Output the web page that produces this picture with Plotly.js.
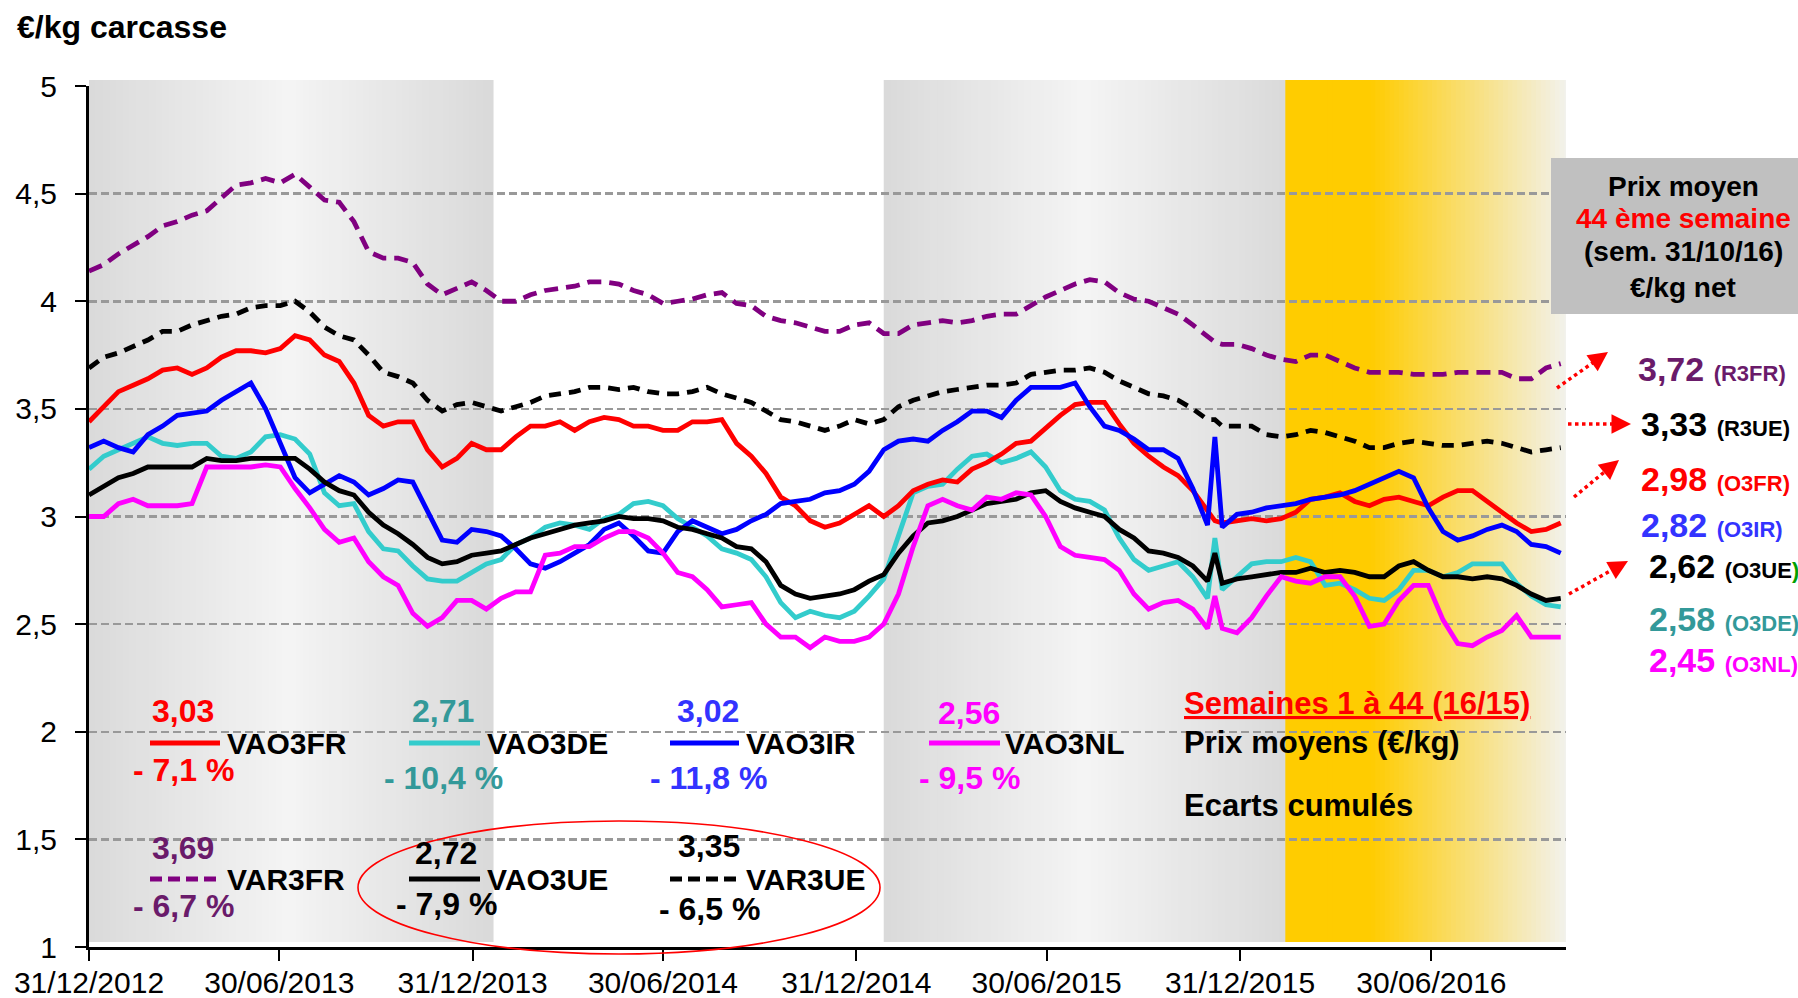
<!DOCTYPE html>
<html>
<head>
<meta charset="utf-8">
<script src="https://cdn.plot.ly/plotly-3.0.1.min.js"></script>
<style>
html,body{margin:0;padding:0;background:#fff;}
#chart{width:1798px;height:998px;}
</style>
</head>
<body>
<div id="chart"></div>
<script>
// ---------------- DATA ----------------
const startDate = '2012-12-31';
// weeks since start date (weekly data, sampled)
const weeks = [0,2,4,6,8,10,12,14,16,18,20,22,24,26,28,30,32,34,36,38,40,42,44,46,48,50,
  52,54,56,58,60,62,64,66,68,70,72,74,76,78,80,82,84,86,88,90,92,94,96,98,100,102,
  104,106,108,110,112,114,116,118,120,122,124,126,128,130,132,134,136,138,140,142,144,146,148,150,152,
  153,
  154,156,158,160,162,164,166,168,170,172,174,176,178,180,182,184,186,188,190,192,194,196,198,200];

const VAR3FR = [4.14,4.17,4.22,4.26,4.30,4.35,4.37,4.40,4.42,4.48,4.54,4.55,4.57,4.55,4.59,4.53,4.47,4.46,4.37,4.23,4.20,4.20,4.18,4.08,4.03,4.06,
  4.09,4.05,4.00,4.00,4.03,4.05,4.06,4.07,4.09,4.09,4.08,4.05,4.03,3.99,4.00,4.01,4.03,4.04,3.99,3.98,3.93,3.91,3.90,3.88,3.86,3.86,
  3.89,3.90,3.85,3.85,3.89,3.90,3.91,3.90,3.91,3.93,3.94,3.94,3.98,4.02,4.05,4.08,4.10,4.09,4.04,4.01,4.00,3.97,3.94,3.89,3.84,
  3.81,
  3.80,3.80,3.78,3.75,3.73,3.72,3.75,3.75,3.72,3.69,3.67,3.67,3.67,3.66,3.66,3.66,3.67,3.67,3.67,3.67,3.64,3.64,3.69,3.71];

const VAR3UE = [3.69,3.74,3.76,3.79,3.82,3.86,3.86,3.89,3.91,3.93,3.94,3.97,3.98,3.98,4.00,3.95,3.88,3.84,3.82,3.75,3.67,3.65,3.62,3.54,3.49,3.52,
  3.53,3.51,3.49,3.51,3.53,3.56,3.57,3.58,3.60,3.60,3.59,3.60,3.58,3.57,3.57,3.58,3.60,3.57,3.55,3.53,3.49,3.45,3.44,3.42,3.40,3.42,
  3.45,3.43,3.45,3.51,3.54,3.56,3.58,3.59,3.60,3.61,3.61,3.62,3.66,3.67,3.68,3.68,3.69,3.67,3.63,3.60,3.57,3.56,3.54,3.50,3.45,
  3.45,
  3.42,3.42,3.42,3.38,3.37,3.38,3.40,3.39,3.37,3.35,3.32,3.32,3.34,3.35,3.34,3.33,3.33,3.34,3.35,3.34,3.32,3.30,3.31,3.32];

const VAO3FR = [3.44,3.51,3.58,3.61,3.64,3.68,3.69,3.66,3.69,3.74,3.77,3.77,3.76,3.78,3.84,3.82,3.75,3.72,3.62,3.47,3.42,3.44,3.44,3.31,3.23,3.27,
  3.34,3.31,3.31,3.37,3.42,3.42,3.44,3.40,3.44,3.46,3.45,3.42,3.42,3.40,3.40,3.44,3.44,3.45,3.34,3.28,3.20,3.09,3.05,2.98,2.95,2.97,
  3.01,3.05,3.00,3.05,3.12,3.15,3.17,3.16,3.22,3.25,3.29,3.34,3.35,3.41,3.47,3.52,3.53,3.53,3.43,3.34,3.28,3.23,3.19,3.12,3.03,
  2.98,
  2.97,2.98,2.99,2.98,2.99,3.02,3.08,3.09,3.11,3.07,3.05,3.08,3.09,3.07,3.05,3.09,3.12,3.12,3.07,3.02,2.97,2.93,2.94,2.97];

const VAO3IR = [3.32,3.35,3.32,3.30,3.38,3.42,3.47,3.48,3.49,3.54,3.58,3.62,3.50,3.34,3.18,3.11,3.15,3.19,3.16,3.10,3.13,3.17,3.16,3.02,2.89,2.88,
  2.94,2.93,2.91,2.85,2.78,2.76,2.79,2.83,2.87,2.94,2.97,2.91,2.84,2.83,2.93,2.98,2.95,2.92,2.94,2.98,3.01,3.06,3.07,3.08,3.11,3.12,
  3.15,3.21,3.31,3.35,3.36,3.35,3.40,3.44,3.49,3.49,3.46,3.54,3.60,3.60,3.60,3.62,3.51,3.42,3.40,3.36,3.31,3.31,3.27,3.13,2.96,
  3.37,
  2.95,3.01,3.02,3.04,3.05,3.06,3.08,3.09,3.10,3.12,3.15,3.18,3.21,3.18,3.04,2.93,2.89,2.91,2.94,2.96,2.93,2.87,2.86,2.83];

const VAO3DE = [3.22,3.28,3.31,3.34,3.37,3.34,3.33,3.34,3.34,3.28,3.27,3.30,3.37,3.38,3.36,3.29,3.11,3.05,3.06,2.93,2.85,2.84,2.77,2.71,2.70,2.70,
  2.74,2.78,2.80,2.87,2.90,2.95,2.97,2.96,2.94,2.99,3.01,3.06,3.07,3.05,2.99,2.95,2.91,2.85,2.83,2.80,2.72,2.60,2.53,2.56,2.54,2.53,
  2.56,2.63,2.71,2.91,3.11,3.14,3.15,3.22,3.28,3.29,3.25,3.27,3.30,3.23,3.12,3.08,3.07,3.03,2.90,2.80,2.75,2.77,2.79,2.72,2.62,
  2.90,
  2.66,2.72,2.78,2.79,2.79,2.81,2.79,2.68,2.69,2.66,2.62,2.61,2.66,2.75,2.75,2.72,2.74,2.78,2.78,2.78,2.69,2.63,2.59,2.58];

const VAO3UE = [3.10,3.14,3.18,3.20,3.23,3.23,3.23,3.23,3.27,3.26,3.26,3.27,3.27,3.27,3.27,3.22,3.16,3.12,3.10,3.02,2.96,2.92,2.87,2.81,2.78,2.79,
  2.82,2.83,2.84,2.87,2.90,2.92,2.94,2.96,2.97,2.98,3.00,2.99,2.99,2.98,2.95,2.94,2.92,2.90,2.86,2.85,2.79,2.68,2.64,2.62,2.63,2.64,
  2.66,2.70,2.73,2.83,2.91,2.97,2.98,3.00,3.03,3.06,3.07,3.08,3.11,3.12,3.07,3.04,3.02,3.00,2.94,2.90,2.84,2.83,2.81,2.77,2.70,
  2.83,
  2.69,2.71,2.72,2.73,2.74,2.74,2.76,2.74,2.75,2.74,2.72,2.72,2.77,2.79,2.75,2.72,2.72,2.71,2.72,2.71,2.68,2.64,2.61,2.62];

const VAO3NL = [3.00,3.00,3.06,3.08,3.05,3.05,3.05,3.06,3.23,3.23,3.23,3.23,3.24,3.23,3.13,3.04,2.94,2.88,2.90,2.79,2.72,2.68,2.55,2.49,2.53,2.61,
  2.61,2.57,2.62,2.65,2.65,2.82,2.83,2.86,2.86,2.90,2.93,2.93,2.90,2.83,2.74,2.72,2.66,2.58,2.59,2.60,2.50,2.44,2.44,2.39,2.44,2.42,
  2.42,2.44,2.50,2.64,2.86,3.05,3.08,3.05,3.03,3.09,3.08,3.11,3.10,3.00,2.86,2.82,2.81,2.80,2.75,2.64,2.57,2.60,2.61,2.57,2.48,
  2.63,
  2.48,2.46,2.53,2.63,2.72,2.70,2.69,2.72,2.72,2.63,2.49,2.50,2.61,2.68,2.68,2.52,2.41,2.40,2.44,2.47,2.54,2.44,2.44,2.44];

// legend block texts (average price weeks 1-44 and cumulated gap 16/15)
const legendNames = ['VAO3FR','VAO3DE','VAO3IR','VAO3NL','VAR3FR','VAO3UE','VAR3UE'];
const legendAvg   = ['3,03','2,71','3,02','2,56','3,69','2,72','3,35'];
const legendPct   = ['- 7,1 %','- 10,4 %','- 11,8 %','- 9,5 %','- 6,7 %','- 7,9 %','- 6,5 %'];
// last week prices
const lastPrices = ['3,72','3,33','2,98','2,82','2,62','2,58','2,45'];
const lastCodes  = ['(R3FR)','(R3UE)','(O3FR)','(O3IR)','(O3UE','(O3DE)','(O3NL)'];

const xTickVals = ['2012-12-31','2013-06-30','2013-12-31','2014-06-30','2014-12-31','2015-06-30','2015-12-31','2016-06-30'];
const xTickText = ['31/12/2012','30/06/2013','31/12/2013','30/06/2014','31/12/2014','30/06/2015','31/12/2015','30/06/2016'];
const yTickVals = [1,1.5,2,2.5,3,3.5,4,4.5,5];
const yTickText = ['1','1,5','2','2,5','3','3,5','4','4,5','5'];

// shaded periods
const grayBands = [['2012-12-31','2014-01-16'],['2015-01-26','2016-02-12']];
const yellowBand = ['2016-02-12','2016-11-08'];

// ---------------- BUILD ----------------
const DAY = 86400000;
const t0 = Date.parse(startDate + 'T00:00:00Z');
function iso(ms){ return new Date(ms).toISOString().replace('T',' ').replace('Z',''); }
const dates = weeks.map(w => iso(t0 + w*7*DAY));

const FONT = 'Liberation Sans, Arial, Helvetica, sans-serif';
const C = {purple:'#800080', purpleTxt:'#6a1b6a', red:'#ff0000', cyan:'#33cccc', teal:'#339999',
           blue:'#0000ff', blueTxt:'#3333ff', black:'#000000', pink:'#ff00ff'};

function tr(y, color, dash){
  return {x: dates, y: y, type:'scatter', mode:'lines', hoverinfo:'skip', showlegend:false,
          line:{color:color, width:4.8, dash: dash || 'solid', shape:'linear'}};
}
const traces = [
  tr(VAR3FR, C.purple, '14px,8px'),
  tr(VAR3UE, C.black, '12px,8px'),
  tr(VAO3DE, C.cyan),
  tr(VAO3FR, C.red),
  tr(VAO3IR, C.blue),
  tr(VAO3UE, C.black),
  tr(VAO3NL, C.pink)
];

// plot area in pixels
const PL = 89, PR = 1566, PT = 86, PB = 947;
const px = v => (v - PL) / (PR - PL);
const py = v => (PB - v) / (PB - PT);

const shapes = [];
function stripes(d0, d1, colorAt, n){
  const a = Date.parse(d0+'T00:00:00Z'), b = Date.parse(d1+'T00:00:00Z');
  const step = (b - a) / n;
  for(let i=0;i<n;i++){
    shapes.push({type:'rect', layer:'below', xref:'x', yref:'paper',
      x0: iso(a + i*step), x1: iso(a + (i+1)*step + step*0.6),
      y0: py(942), y1: py(80), line:{width:0}, fillcolor: colorAt((i+0.5)/n)});
  }
}
function rgb(r,g,b){ return 'rgb('+Math.round(r)+','+Math.round(g)+','+Math.round(b)+')'; }
const grayAt = t => { const l = 218 + 26*(1 - Math.abs(2*t-1)); return rgb(l,l,l); };
const yellowAt = t => {
  if(t < 0.3) return rgb(255,204,0);
  const s = (t-0.3)/0.7;
  return rgb(255 + (242-255)*s, 204 + (242-204)*s, 0 + 240*s);
};
grayBands.forEach(b => stripes(b[0], b[1], grayAt, 60));
stripes(yellowBand[0], yellowBand[1], yellowAt, 60);

// legend sample lines
function seg(x0,x1,y,color,dash){
  shapes.push({type:'line', xref:'paper', yref:'paper', layer:'above',
    x0:px(x0), x1:px(x1), y0:py(y), y1:py(y), line:{color:color, width:5, dash: dash||'solid'}});
}
seg(150,220,743,C.red);
seg(409,480,743,C.cyan);
seg(670,739,743,C.blue);
seg(929,1000,743,C.pink);
seg(150,221,879,C.purple,'12px,6px');
seg(409,480,879,C.black);
seg(670,741,879,C.black,'12px,6px');

// red ellipse
shapes.push({type:'circle', xref:'paper', yref:'paper', layer:'above',
  x0:px(358), x1:px(880), y0:py(954), y1:py(821), line:{color:'#ff0000', width:1.6}});

// grey info box
shapes.push({type:'rect', xref:'paper', yref:'paper', layer:'above',
  x0:px(1551), x1:px(1800), y0:py(314), y1:py(158), fillcolor:'#c0c0c0', line:{width:0}});

// dotted arrows
const arrows = [[1557,388,1608,352],[1568,424,1631,424],[1574,497,1619,460],[1569,594,1628,561]];
const annotations = [];
arrows.forEach(a => {
  const dx = a[2]-a[0], dy = a[3]-a[1], L = Math.hypot(dx,dy);
  const ux = dx/L, uy = dy/L;
  shapes.push({type:'line', xref:'paper', yref:'paper', layer:'above',
    x0:px(a[0]), y0:py(a[1]), x1:px(a[2]-ux*12), y1:py(a[3]-uy*12),
    line:{color:'#ff0000', width:3.5, dash:'dot'}});
  annotations.push({xref:'paper', yref:'paper', x:px(a[2]), y:py(a[3]), ax:-ux*16, ay:-uy*16,
    axref:'pixel', ayref:'pixel', text:'', showarrow:true, arrowhead:2, arrowsize:1.3, arrowwidth:3,
    arrowcolor:'#ff0000', standoff:0, startstandoff:0});
});

function ann(x, y, text, color, size, xanchor, extra){
  const o = {xref:'paper', yref:'paper', x:px(x), y:py(y), text:text, showarrow:false,
    xanchor:xanchor||'center', yanchor:'middle', borderpad:0,
    font:{family:FONT, size:size, color:color}};
  return Object.assign(o, extra||{});
}

// legend block
const legPos = [ // [centerX of value/percent, yValue, yName, yPct, nameLeftX]
  [183,711,743,770,226],[443,711,743,778,486],[708,711,743,778,745],[969,713,743,778,1004],
  [183,848,879,906,226],[446,853,879,904,486],[709,846,879,909,745]
];
const legColor = [C.red, C.teal, C.blueTxt, C.pink, C.purpleTxt, C.black, C.black];
legendNames.forEach((n,i) => {
  const p = legPos[i];
  annotations.push(ann(p[0], p[1], '<b>'+legendAvg[i]+'</b>', legColor[i], 32));
  annotations.push(ann(p[4], p[2], '<b>'+n+'</b>', C.black, 30, 'left'));
  annotations.push(ann(p[0], p[3], '<b>'+legendPct[i]+'</b>', legColor[i], 32));
});

// explanatory text
annotations.push(ann(1183, 703, '<b>Semaines 1 à 44 (16/15)</b>', '#ff0000', 31, 'left',
  {font:{family:FONT, size:31, color:'#ff0000', lineposition:'under'}}));
annotations.push(ann(1183, 742, '<b>Prix moyens (€/kg)</b>', C.black, 31, 'left'));
annotations.push(ann(1183, 805, '<b>Ecarts cumulés</b>', C.black, 31, 'left'));

// info box text
annotations.push(ann(1683, 186, '<b>Prix moyen</b>', C.black, 28));
annotations.push(ann(1683, 219, '<b>44 ème semaine</b>', '#ff0000', 28));
annotations.push(ann(1683, 252, '<b>(sem. 31/10/16)</b>', C.black, 28));
annotations.push(ann(1683, 287, '<b>€/kg net</b>', C.black, 28));

// last-week prices
const lastPos = [[1637,369],[1640,424],[1640,479],[1640,525],[1648,566],[1648,619],[1648,660]];
const lastColor = [C.purpleTxt, C.black, C.red, C.blueTxt, C.black, C.teal, C.pink];
lastPrices.forEach((v,i) => {
  let code = lastCodes[i];
  if(i === 4) code = code + '<span style="color:#00a000">)</span>';
  annotations.push(ann(lastPos[i][0], lastPos[i][1],
    '<b>'+v+' <span style="font-size:22px">'+code+'</span></b>', lastColor[i], 34, 'left'));
});

const layout = {
  width:1798, height:998,
  margin:{l:PL, r:1798-PR, t:PT, b:998-PB, pad:0},
  paper_bgcolor:'#ffffff', plot_bgcolor:'rgba(0,0,0,0)',
  font:{family:FONT, color:'#000'},
  title:{text:'<b>€/kg carcasse</b>', font:{family:FONT, size:32, color:'#000'},
    xref:'container', yref:'container', x:17/1798, xanchor:'left', y:1-27/998, yanchor:'middle'},
  xaxis:{type:'date', range:['2012-12-31','2016-11-05'], tickvals:xTickVals, ticktext:xTickText,
    ticks:'outside', ticklen:11, tickwidth:2, tickcolor:'#000', showline:true, linecolor:'#000', linewidth:3,
    showgrid:false, zeroline:false, tickfont:{family:FONT, size:30, color:'#000'}, ticklabelstandoff:-4},
  yaxis:{range:[1,5], tickvals:yTickVals, ticktext:yTickText, ticks:'outside', ticklen:11, tickwidth:2,
    tickcolor:'#000', showline:true, linecolor:'#000', linewidth:3, showgrid:true, gridcolor:'#999999',
    gridwidth:2.5, griddash:'8px,4px', zeroline:false, tickfont:{family:FONT, size:30, color:'#000'},
    ticklabelstandoff:12},
  shapes:shapes,
  annotations:annotations,
  showlegend:false
};

Plotly.newPlot('chart', traces, layout, {staticPlot:true, displayModeBar:false});
</script>
</body>
</html>
